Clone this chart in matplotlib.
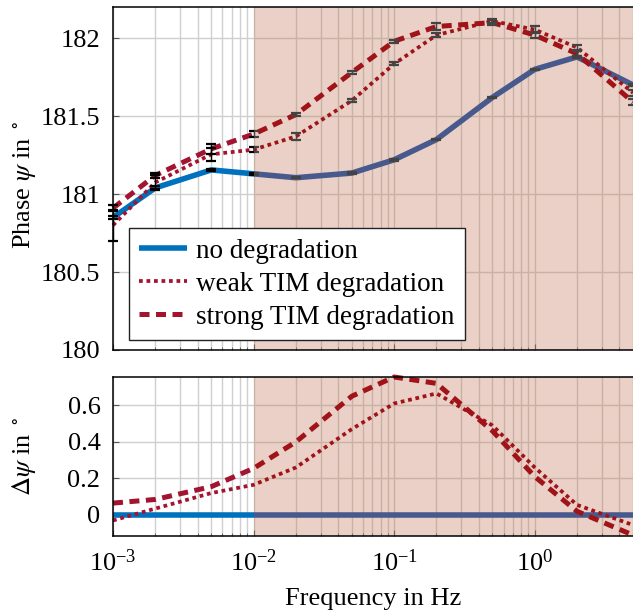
import numpy as np
import matplotlib
matplotlib.use("Agg")
import matplotlib.pyplot as plt
from matplotlib.patches import Rectangle
import matplotlib.transforms as mtransforms
from matplotlib.ticker import FixedLocator, FuncFormatter, LogLocator, NullFormatter

plt.rcParams['font.family'] = ['Liberation Serif', 'DejaVu Serif']
plt.rcParams['mathtext.fontset'] = 'stix'
plt.rcParams['font.size'] = 19

# ---------------- data ----------------
freq = [1e-3, 2e-3, 5e-3, 1e-2, 2e-2, 5e-2, 0.1, 0.2, 0.5, 1.0, 2.0, 5.0]
phase_none = [180.85, 181.04, 181.155, 181.13, 181.105, 181.135, 181.22, 181.35, 181.62, 181.80, 181.88, 181.70]
phase_weak = [180.80, 181.075, 181.255, 181.285, 181.37, 181.60, 181.835, 182.02, 182.11, 182.055, 181.94, 181.65]
phase_strong = [180.91, 181.12, 181.29, 181.385, 181.51, 181.78, 181.98, 182.075, 182.10, 182.02, 181.90, 181.59]
err_none = [0.01, 0.01, 0.005, 0.005, 0.005, 0.005, 0.005, 0.005, 0.005, 0.005, 0.005, 0.005]
err_weak = [0.10, 0.05, 0.04, 0.015, 0.02, 0.01, 0.01, 0.015, 0.015, 0.02, 0.015, 0.02]
err_strong = [0.02, 0.015, 0.03, 0.02, 0.01, 0.01, 0.01, 0.02, 0.015, 0.02, 0.015, 0.02]
delta_none = [0.0] * 12
delta_weak = [-0.03, 0.035, 0.12, 0.165, 0.26, 0.47, 0.61, 0.665, 0.49, 0.26, 0.055, -0.055]
delta_strong = [0.065, 0.085, 0.155, 0.255, 0.40, 0.65, 0.755, 0.72, 0.46, 0.21, 0.02, -0.11]
labels = ["no degradation", "weak TIM degradation", "strong TIM degradation"]
shade_start = 1e-2
xlim = (1e-3, 5.0)

# ---------------- style ----------------
blue = '#0072BD'
blue_s = '#485A8D'
red = '#A2142F'
red_s = '#A01419'
ebar = 'black'
ebar_s = '#444444'
shade_col = '#C37A5C'
shade_alpha = 0.35
grid_col = '#CFCFCF'

fig = plt.figure(figsize=(6.33, 6.12), dpi=100)
ax1 = fig.add_axes([113/633, (612-350)/612, 520/633, 343/612])
ax2 = fig.add_axes([113/633, (612-536)/612, 520/633, 159/612])


def regions(ax):
    tr = mtransforms.blended_transform_factory(ax.transData, ax.transAxes)
    left = Rectangle((1e-6, -1), shade_start - 1e-6, 3, transform=tr)
    right = Rectangle((shade_start, -1), 1e4 - shade_start, 3, transform=tr)
    return left, right


def two_tone_line(ax, x, y, c_white, c_shade, z, **kw):
    left, right = regions(ax)
    l1, = ax.plot(x, y, color=c_white, zorder=z, **kw)
    l1.set_clip_path(left)
    l2, = ax.plot(x, y, color=c_shade, zorder=z, **kw)
    l2.set_clip_path(right)
    return l1


def two_tone_err(ax, x, y, e):
    for col, reg in zip([ebar, ebar_s], regions(ax)):
        cont = ax.errorbar(x, y, yerr=e, fmt='none', ecolor=col, elinewidth=1.0,
                           capsize=3.8, capthick=1.6, zorder=5)
        for a in list(cont[1]) + list(cont[2]):
            a.set_clip_path(reg)


styles = [
    dict(lw=4.0, ls='-', solid_capstyle='butt'),
    dict(lw=2.7, ls=(0, (1.0, 1.0))),
    dict(lw=3.6, ls=(0, (2.0, 1.3))),
]

handles = []
for ax, series in [(ax1, [phase_none, phase_weak, phase_strong]),
                   (ax2, [delta_none, delta_weak, delta_strong])]:
    ax.set_xscale('log')
    ax.set_xlim(*xlim)
    ax.axvspan(shade_start, 1e4, color=shade_col, alpha=shade_alpha, lw=0, zorder=1)
    cols = [(blue, blue_s), (red, red_s), (red, red_s)]
    hs = []
    for i, (ys, (cw, cs), st) in enumerate(zip(series, cols, styles)):
        hs.append(two_tone_line(ax, freq, ys, cw, cs, 2 + 0.1 * i, **st))
    if ax is ax1:
        handles = hs
    ax.set_axisbelow(True)
    ax.grid(True, which='major', axis='both', color=grid_col, lw=1.0)
    ax.grid(True, which='minor', axis='x', color=grid_col, lw=1.0)
    ax.xaxis.set_major_locator(LogLocator(base=10, numticks=10))
    ax.xaxis.set_minor_locator(LogLocator(base=10, subs=np.arange(2, 10), numticks=20))
    ax.xaxis.set_minor_formatter(NullFormatter())
    ax.tick_params(which='both', direction='in', color='#555555')
    ax.tick_params(which='major', length=4, width=0.8)
    ax.tick_params(which='minor', length=2.5, width=0.6)
    ax.tick_params(axis='y', pad=9)
    ax.tick_params(axis='x', pad=10)
    for s in ['top', 'bottom', 'left']:
        ax.spines[s].set_linewidth(1.1)
        ax.spines[s].set_zorder(6)
    ax.spines['right'].set_visible(False)

two_tone_err(ax1, freq, phase_none, err_none)
two_tone_err(ax1, freq, phase_weak, err_weak)
two_tone_err(ax1, freq, phase_strong, err_strong)

ax1.set_ylim(180.0, 182.2)
ax1.yaxis.set_major_locator(FixedLocator([180, 180.5, 181, 181.5, 182]))
ax1.yaxis.set_major_formatter(FuncFormatter(lambda v, p: f"{v:g}"))
ax1.tick_params(axis='x', labelbottom=False)
ax1.set_ylabel(r"Phase $\psi$ in $^\circ$")

ax2.set_ylim(-0.115, 0.755)
ax2.yaxis.set_major_locator(FixedLocator([0, 0.2, 0.4, 0.6]))
ax2.yaxis.set_major_formatter(FuncFormatter(lambda v, p: f"{v:g}"))
ax2.set_ylabel(r"$\Delta\psi$ in $^\circ$")
ax2.set_xlabel("Frequency in Hz", labelpad=8)

ax1.yaxis.set_label_coords(-0.145, 0.48)
ax2.yaxis.set_label_coords(-0.145, 0.5)

leg = ax1.legend(handles, labels, loc='lower left', bbox_to_anchor=(0.031, 0.029),
                 borderaxespad=0, fancybox=False, framealpha=1, edgecolor='#222222',
                 handlelength=1.75, handletextpad=0.35, labelspacing=0.3,
                 borderpad=0.38, fontsize=19.5)
leg.get_frame().set_linewidth(1.0)
leg.set_zorder(10)

fig.savefig("out.png", dpi=100)
